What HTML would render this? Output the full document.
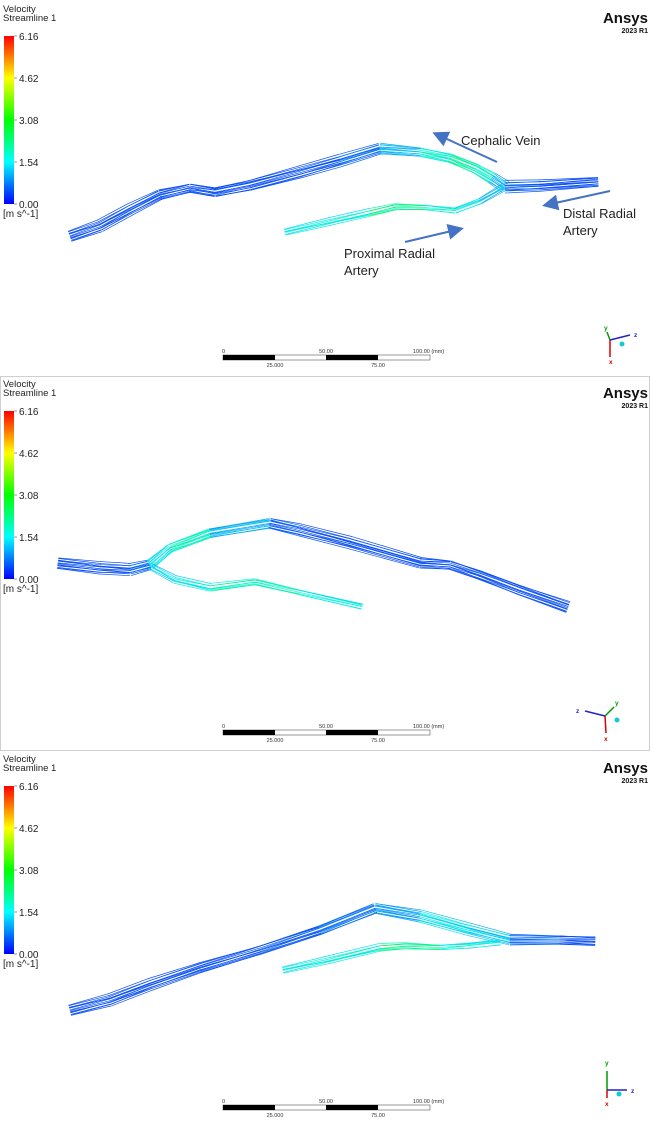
<!DOCTYPE html>
<html><head><meta charset="utf-8">
<style>
body{margin:0;background:#fff;}
svg{display:block;font-family:"Liberation Sans",Arial,sans-serif;}
</style></head>
<body>
<svg id="s" width="650" height="1125" viewBox="0 0 650 1125">
<defs>
<linearGradient id="cb" x1="0" y1="1" x2="0" y2="0">
<stop offset="0" stop-color="#0000ff"/><stop offset="0.25" stop-color="#00ffff"/>
<stop offset="0.5" stop-color="#00ff00"/><stop offset="0.75" stop-color="#ffff00"/>
<stop offset="1" stop-color="#ff0000"/></linearGradient>
<marker id="ah" markerWidth="8" markerHeight="8" refX="6" refY="4" orient="auto"><path d="M0,0 L8,4 L0,8 z" fill="#4472c4"/></marker>
</defs>
<rect x="0.5" y="376.5" width="649" height="374" fill="none" stroke="#cfcfcf"/>
<g id="panels"></g>
<g font-size="13" fill="#222">
<line x1="497" y1="162" x2="436" y2="134" stroke="#4472c4" stroke-width="2" marker-end="url(#ah)"/>
<text x="461" y="145">Cephalic Vein</text>
<line x1="610" y1="191" x2="546" y2="205" stroke="#4472c4" stroke-width="2" marker-end="url(#ah)"/>
<text x="563" y="218">Distal Radial</text>
<text x="563" y="235">Artery</text>
<line x1="405" y1="242" x2="460" y2="229" stroke="#4472c4" stroke-width="2" marker-end="url(#ah)"/>
<text x="344" y="258">Proximal Radial</text>
<text x="344" y="275">Artery</text>
</g>
</svg>
<script>
const NS="http://www.w3.org/2000/svg";
const ticks=["6.16","4.62","3.08","1.54","0.00"];
const scaleTop=["0","50.00","100.00 (mm)"];
const scaleBottom=["25.000","75.00"];
// centerlines: [x,y,speed fraction 0..1]
const p1Main=[[70,236,.05],[100,226,.05],[130,210,.05],[160,195,.05],[190,188,.05],[215,192,.05],[250,185,.05],[300,172,.05],[340,161,.06],[380,149,.1],[420,152,.2],[450,158,.28],[475,168,.3],[492,178,.22],[505,187,.08],[540,186,.05],[598,182,.05]];
const p1Branch=[[285,232,.22],[330,222,.22],[370,213,.24],[395,207,.38],[425,207,.26],[455,210,.22],[480,201,.2],[505,187,.12]];
const p2Main=[[58,563,.05],[100,568,.05],[130,570,.05],[150,565,.1],[170,548,.3],[210,533,.22],[270,523,.08],[300,530,.05],[350,543,.05],[420,563,.05],[450,565,.05],[480,575,.05],[520,590,.05],[568,607,.05]];
const p2Branch=[[150,566,.15],[175,580,.22],[210,588,.22],[255,582,.32],[300,592,.22],[362,606,.22]];
const p3Main=[[70,1010,.05],[110,1000,.05],[150,985,.05],[200,968,.05],[260,950,.05],[320,930,.07],[375,908,.1],[420,916,.16],[470,930,.24],[510,940,.1],[560,940,.05],[595,941,.05]];
const p3Branch=[[283,970,.22],[330,960,.22],[380,948,.24],[405,946,.38],[440,947,.24],[470,945,.22],[500,942,.2]];
function col(v){
  const h=235-v*260; return `hsl(${Math.max(h,60)},90%,50%)`;
}
const panels=document.getElementById('panels');
function el(tag,attrs,parent){const e=document.createElementNS(NS,tag);for(const k in attrs)e.setAttribute(k,attrs[k]);parent.appendChild(e);return e;}
function bundle(g,pts,n,spread){
  for(let i=0;i<n;i++){
    const off=(i/(n-1)-0.5)*spread*2;
    const wob=((i*37)%11-5)*0.35;
    for(let j=0;j<pts.length-1;j++){
      const a=pts[j],b=pts[j+1];
      const dx=b[0]-a[0],dy=b[1]-a[1],L=Math.hypot(dx,dy)||1;
      const nx=-dy/L,ny=dx/L;
      const o1=off+wob*Math.sin(j+i),o2=off+wob*Math.sin(j+1+i);
      const ln=el('line',{x1:a[0]+nx*o1,y1:a[1]+ny*o1,x2:b[0]+nx*o2,y2:b[1]+ny*o2,stroke:col((a[2]+b[2])/2*(0.85+0.3*(i%3)/2)),'stroke-width':0.7,'stroke-linecap':'round'},g);
      
      
    }
  }
}
function panel(oy,main,branch,triad,idx){
  const g=el('g',{transform:`translate(0,${oy})`},panels);
  
  
  const lg=el('g',{},g);
  
  
  let t=el('text',{x:3,y:12,'font-size':9.5,fill:'#222'},lg);t.textContent='Velocity';
  t=el('text',{x:3,y:21,'font-size':9.5,fill:'#222'},lg);t.textContent='Streamline 1';
  el('rect',{x:4,y:36,width:10,height:168,fill:'url(#cb)'},lg);
  ticks.forEach((s,i)=>{const y=36+i*42;el('line',{x1:14,y1:y,x2:17,y2:y,stroke:'#555','stroke-width':0.6},lg);
    const tx=el('text',{x:19,y:y+4,'font-size':10,fill:'#222'},lg);tx.textContent=s;});
  t=el('text',{x:3,y:217,'font-size':10,fill:'#222'},lg);t.textContent='[m s^-1]';
  const logo=el('g',{},g);
  
  
  t=el('text',{x:648,y:23,'font-size':15,'font-weight':'bold','text-anchor':'end',fill:'#111'},logo);t.textContent='Ansys';
  t=el('text',{x:648,y:33,'font-size':7,'font-weight':'bold','text-anchor':'end',fill:'#111'},logo);t.textContent='2023 R1';
  const sg=el('g',{},g);
  bundle(sg,main,14,5);bundle(sg,branch,8,3);
  const sb=el('g',{},g);
  
  
  el('rect',{x:223,y:355,width:207,height:5,fill:'#fff',stroke:'#555','stroke-width':0.6},sb);
  el('rect',{x:223,y:355,width:52,height:5,fill:'#000'},sb);
  el('rect',{x:326,y:355,width:52,height:5,fill:'#000'},sb);
  [[222,'start'],[326,'middle'],[413,'start']].forEach((p,i)=>{const x=el('text',{x:p[0],y:353,'font-size':5.5,fill:'#333','text-anchor':p[1]},sb);x.textContent=scaleTop[i];});
  [275,378].forEach((px,i)=>{const x=el('text',{x:px,y:367,'font-size':5.5,fill:'#333','text-anchor':'middle'},sb);x.textContent=scaleBottom[i];});
  const tg=el('g',{},g);
  
  
  triad.forEach(a=>{el('line',{x1:a[0],y1:a[1],x2:a[2],y2:a[3],stroke:a[4],'stroke-width':1.5},tg);
    const x=el('text',{x:a[5],y:a[6],'font-size':6.5,'font-weight':'bold',fill:a[4]},tg);x.textContent=a[7];});
  el('circle',{cx:triad[0][0]+12,cy:triad[0][1]+4,r:2.5,fill:'#1cc'},tg);
}
panel(0,p1Main,p1Branch,[[610,340,610,357,'#d00',609,364,'x'],[610,340,630,335,'#22c',634,337,'z'],[610,340,607,332,'#090',604,330,'y']],1);
panel(375,p2Main.map(p=>[p[0],p[1]-375,p[2]]),p2Branch.map(p=>[p[0],p[1]-375,p[2]]),[[605,341,606,358,'#d00',604,366,'x'],[605,341,585,336,'#22c',576,338,'z'],[605,341,614,332,'#090',615,330,'y']],2);
panel(750,p3Main.map(p=>[p[0],p[1]-750,p[2]]),p3Branch.map(p=>[p[0],p[1]-750,p[2]]),[[607,340,607,321,'#090',605,315,'y'],[607,340,627,340,'#22c',631,343,'z'],[607,340,607,348,'#d00',605,356,'x']],3);
</script>
</body></html>
